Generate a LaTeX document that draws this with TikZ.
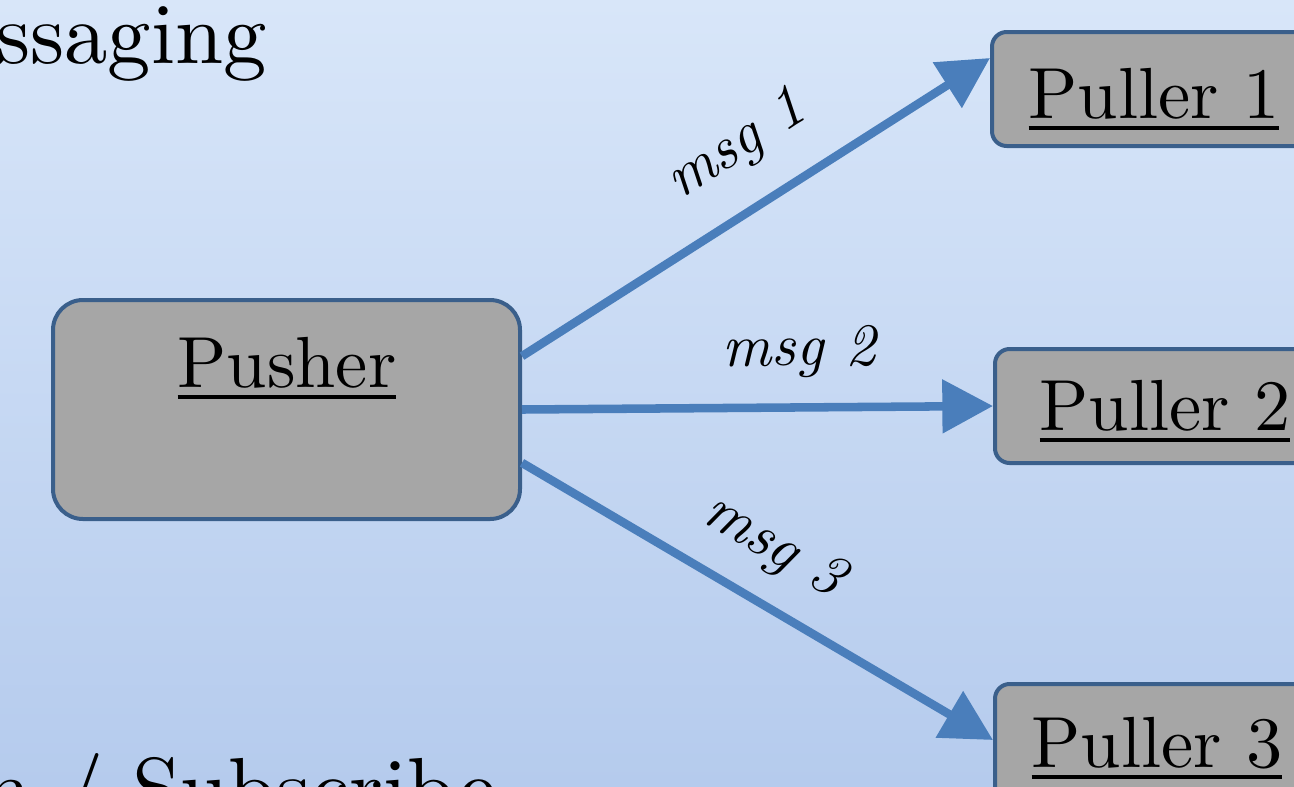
\documentclass[tikz,border=0pt]{standalone}
\usepackage{fontspec}
\setmainfont{lmroman10-regular.otf}[ItalicFont=lmroman10-italic.otf, BoldFont=lmroman10-bold.otf]
\usetikzlibrary{arrows.meta}

\definecolor{bgtop}{HTML}{D8E6F9}
\definecolor{bgbot}{HTML}{B5CBED}
\definecolor{boxfill}{HTML}{A6A6A6}
\definecolor{boxline}{HTML}{3A5F8B}
\definecolor{arrowblue}{HTML}{4A7EBB}

% underline drawn as a rule under the word, scaled with the font
\newcommand\ulinetext[1]{\leavevmode\vtop{\hbox{#1}\kern0.095em\hrule height 0.055em}}

\begin{document}
\begin{tikzpicture}[x=0.75pt,y=-0.75pt,
  boxshape/.style={draw=boxline, fill=boxfill, line width=3pt, inner sep=0pt},
  boxlabel/.style={anchor=base, inner sep=0pt, font=\fontsize{54.3}{65}\selectfont},
  msgarrow/.style={draw=arrowblue, line width=6.4pt, -{Triangle[length=38pt,width=39pt]}},
  msglabel/.style={sloped, inner sep=0pt, font=\fontsize{45}{54}\selectfont\itshape},
  heading/.style={anchor=base east, inner sep=0pt, font=\fontsize{65}{78}\selectfont}]

\useasboundingbox (0,0) rectangle (1294,786);
\clip (0,0) rectangle (1294,786);
\shade[top color=bgtop, bottom color=bgbot] (0,0) rectangle (1294,786);

% slide headings
\node[heading] (title) at (267,63) {Messaging};
\node[heading] (subtitle) at (497,818) {Publish / Subscribe};

% boxes
\node[boxshape, rounded corners=22.5pt, minimum width=350.25pt, minimum height=164.25pt] (pusher) at (286.5,409.5) {};
\node[boxshape, rounded corners=11pt, minimum width=243pt, minimum height=85.5pt] (puller1) at (1154,89) {};
\node[boxshape, rounded corners=11pt, minimum width=255pt, minimum height=85.5pt] (puller2) at (1165,406) {};
\node[boxshape, rounded corners=11pt, minimum width=243pt, minimum height=90pt] (puller3) at (1157,744) {};

% box titles
\node[boxlabel] (pushertext) at (287,387) {\ulinetext{Pusher}};
\node[boxlabel] (puller1text) at (1154,118) {\ulinetext{Puller 1}};
\node[boxlabel] (puller2text) at (1165,430) {\ulinetext{Puller 2}};
\node[boxlabel] (puller3text) at (1157,767) {\ulinetext{Puller 3}};

% messages
\draw[msgarrow] ([yshift=40pt]pusher.east) -- ([yshift=23.25pt]puller1.west)
  node[msglabel, above=23pt, pos=0.53] (msg1) {msg 1};
\draw[msgarrow] (pusher.east) -- (puller2.west)
  node[msglabel, above=19pt, pos=0.59] (msg2) {msg 2};
\draw[msgarrow] ([yshift=-40pt]pusher.east) -- ([yshift=3pt]puller3.west)
  node[msglabel, above=18pt, pos=0.475] (msg3) {msg 3};
\end{tikzpicture}
\end{document}
